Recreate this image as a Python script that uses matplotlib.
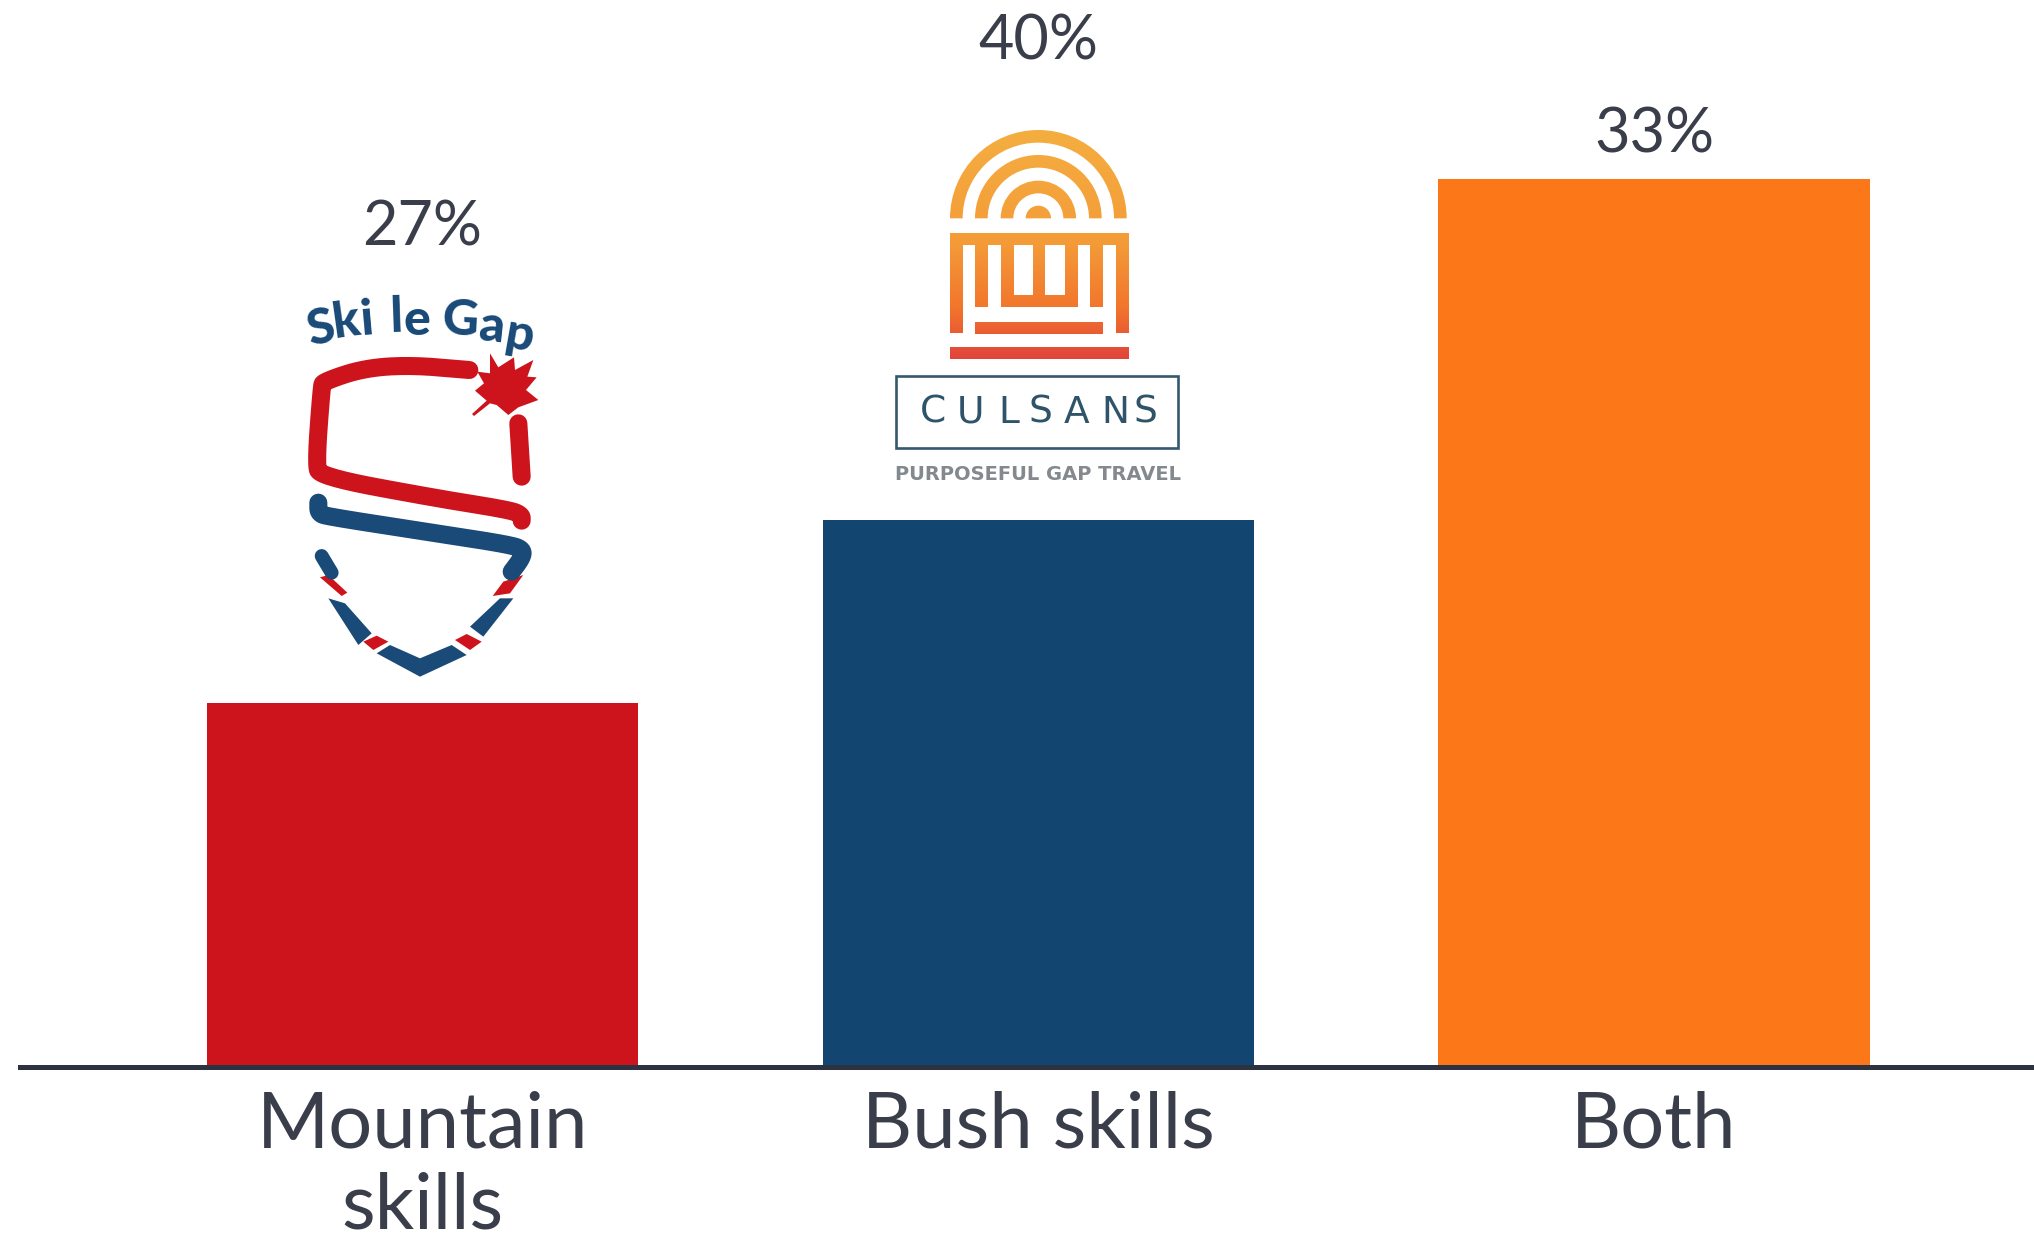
import numpy as np
import matplotlib
matplotlib.use("Agg")
import matplotlib.pyplot as plt
from matplotlib.patches import Polygon, Rectangle, Wedge
from matplotlib.colors import LinearSegmentedColormap

# ---- data ----
categories = ["Mountain\nskills", "Bush skills", "Both"]
bar_heights = [26.8, 40.2, 65.3]      # drawn height of each bar
value_labels = ["27%", "40%", "33%"]  # printed labels
bar_colors = ["#cd141c", "#134571", "#fb7718"]
label_offsets_px = [475, 478, 44]

TEXT = "#3a3e4a"
RED = "#cd141c"
BLUE = "#1a4a78"
FONT = "Lato"

W, H = 2034, 1247
fig = plt.figure(figsize=(W / 100, H / 100), dpi=100, facecolor="white")
BASE = 1067
ax = fig.add_axes([20 / W, (H - BASE) / H, (W - 20) / W, BASE / H])
x = np.arange(len(categories))
ax.bar(x, bar_heights, width=0.70, color=bar_colors, zorder=2)
ax.set_xlim(-0.653, 2.617)
ax.set_ylim(0, BASE / 13.6)
for s in ["top", "left", "right"]:
    ax.spines[s].set_visible(False)
ax.spines["bottom"].set_linewidth(3.6)
ax.spines["bottom"].set_color("#2d3240")
ax.spines["bottom"].set_zorder(3)
ax.set_yticks([])
ax.set_xticks(x)
ax.set_xticklabels(categories, fontsize=56, color=TEXT, family=FONT, linespacing=1.17)
ax.tick_params(axis="x", length=0, pad=17)
for xi, h, lab, off in zip(x, bar_heights, value_labels, label_offsets_px):
    ax.annotate(lab, (xi, h), xytext=(0, off * 0.72), textcoords="offset points",
                ha="center", va="center", fontsize=44, color=TEXT, family=FONT,
                annotation_clip=False)

# ---- logos, in figure pixels ----
ov = fig.add_axes([0, 0, 1, 1], facecolor="none")
ov.axis("off")


def A(X, Y):   # Ski le Gap logo coordinates
    return 270 + X / 3, 170 + Y / 3


def B(X, Y):   # Culsans logo coordinates
    return 870 + X / 3, 110 + Y / 3


def rounded(pts, n=4):
    pts = np.asarray(pts, float)
    for _ in range(n):
        q = [pts[0]]
        for a, b in zip(pts[:-1], pts[1:]):
            q += [0.75 * a + 0.25 * b, 0.25 * a + 0.75 * b]
        q.append(pts[-1])
        pts = np.array(q)
    return pts


def stroke(pts, color, lw=13, cap="round"):
    xy = np.array([A(*p) for p in rounded(pts)])
    ov.plot(xy[:, 0], xy[:, 1], color=color, lw=lw, solid_capstyle=cap, solid_joinstyle="round")


def blob(pts, color):
    ov.add_patch(Polygon([A(*p) for p in pts], closed=True, color=color, lw=0))


for ch, X, Y, rot in [("S", 150, 478, 12), ("k", 228, 455, 8), ("i", 290, 450, 5),
                      ("l", 378, 442, 2), ("e", 442, 452, 0), ("G", 572, 450, -3),
                      ("a", 668, 472, -6), ("p", 748, 495, -10)]:
    px, py = A(X, Y)
    ov.text(px, py, ch, fontsize=36, fontweight="black", color=BLUE, family=FONT,
            ha="center", va="center", rotation=rot)

stroke([(598, 600), (420, 585), (280, 595), (160, 635), (155, 650), (138, 880), (150, 920),
        (500, 985), (720, 1020), (755, 1035), (755, 1052)], RED)
stroke([(745, 760), (755, 920)], RED)
stroke([(145, 998), (145, 1030), (175, 1040), (500, 1090), (725, 1125), (760, 1140), (755, 1165), (725, 1205)], BLUE)
stroke([(155, 1158), (185, 1208)], BLUE, lw=10)
blob([(150, 1222), (175, 1215), (232, 1268), (215, 1278)], RED)
blob([(175, 1285), (225, 1300), (305, 1390), (265, 1425)], BLUE)
blob([(280, 1415), (320, 1397), (355, 1415), (310, 1440)], RED)
blob([(320, 1450), (360, 1425), (450, 1465), (545, 1425), (590, 1455), (450, 1520)], BLUE)
blob([(555, 1410), (590, 1392), (635, 1415), (600, 1440)], RED)
blob([(600, 1370), (690, 1285), (730, 1285), (640, 1400)], BLUE)
blob([(668, 1278), (700, 1235), (760, 1215), (720, 1270)], RED)
leaf = [(660, 550), (685, 592), (732, 562), (735, 600), (790, 570), (772, 620), (800, 622),
        (768, 660), (805, 690), (745, 712), (715, 735), (680, 705), (660, 700), (612, 738),
        (606, 732), (650, 692), (615, 662), (642, 640), (622, 605), (660, 610)]
blob(leaf, RED)

# Culsans crest with a vertical gradient
cmap = LinearSegmentedColormap.from_list("crest", [(0, "#f4ae40"), (0.5, "#f49b38"),
                                                   (0.78, "#f2752c"), (1, "#e2443b")])
gx0, gy0 = B(240, 60)
gx1, gy1 = B(775, 747)
grad = np.linspace(0, 1, 256).reshape(-1, 1)
c = B(505, 325)
shapes = [Wedge(c, 265 / 3, 180, 360, width=38 / 3), Wedge(c, 190 / 3, 180, 360, width=38 / 3),
          Wedge(c, 113 / 3, 180, 360, width=38 / 3), Wedge(c, 38 / 3, 180, 360)]
for r in [(240, 368, 775, 405), (240, 405, 278, 670), (738, 405, 775, 670), (315, 405, 353, 592),
          (660, 405, 697, 592), (392, 405, 430, 592), (585, 405, 622, 592), (489, 405, 525, 560),
          (392, 555, 622, 592), (315, 635, 697, 672), (240, 710, 775, 747)]:
    p0 = B(r[0], r[1])
    p1 = B(r[2], r[3])
    shapes.append(Rectangle(p0, p1[0] - p0[0], p1[1] - p0[1]))
for sh in shapes:
    sh.set_transform(ov.transData)
    im = ov.imshow(grad, cmap=cmap, extent=(gx0, gx1, gy1, gy0), aspect="auto", vmin=0, vmax=1)
    im.set_clip_path(sh)

bx0, by0 = B(78, 797)
bx1, by1 = B(925, 1015)
ov.add_patch(Rectangle((bx0, by0), bx1 - bx0, by1 - by0, fill=False, ec="#34596f", lw=1.9))
for ch, X in zip("CULSANS", [188, 300, 415, 512, 620, 735, 825]):
    px, py = B(X, 908)
    ov.text(px, py, ch, fontsize=27, color="#2f5369", family="DejaVu Sans", ha="center", va="center")
px, py = B(503, 1092)
ov.text(px, py, "PURPOSEFUL GAP TRAVEL", fontsize=14, color="#84898d", family="DejaVu Sans",
        fontweight="bold", ha="center", va="center")

ov.set_xlim(0, W)
ov.set_ylim(H, 0)

fig.savefig("out.png", dpi=100, facecolor="white")
